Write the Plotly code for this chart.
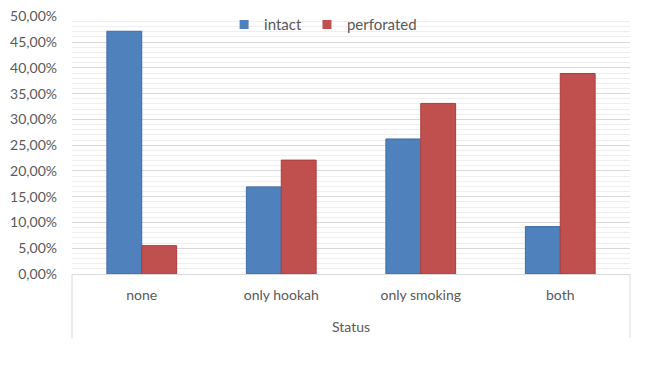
import plotly.graph_objects as go

categories = ["none", "only hookah", "only smoking", "both"]
intact = [0.471, 0.169, 0.262, 0.092]
perforated = [0.055, 0.221, 0.331, 0.389]
tick_vals = [0, 0.05, 0.10, 0.15, 0.20, 0.25, 0.30, 0.35, 0.40, 0.45, 0.50]

font_family = "Lato, Open Sans, sans-serif"
txt = "#595959"
blue, red = "#4f81bd", "#c0504d"

fig = go.Figure()
fig.add_trace(go.Bar(name="intact", x=categories, y=intact, showlegend=False,
                     marker=dict(color=blue, line=dict(color="#3d6da8", width=1))))
fig.add_trace(go.Bar(name="perforated", x=categories, y=perforated, showlegend=False,
                     marker=dict(color=red, line=dict(color="#b03c39", width=1))))
# legend entries with small square swatches
fig.add_trace(go.Scatter(name="intact", x=[None], y=[None], mode="markers",
                         marker=dict(symbol="square", size=9, color=blue)))
fig.add_trace(go.Scatter(name="perforated", x=[None], y=[None], mode="markers",
                         marker=dict(symbol="square", size=9, color=red)))

fig.update_layout(
    width=650, height=388,
    margin=dict(l=64, r=28, t=8, b=122, autoexpand=False),
    paper_bgcolor="white", plot_bgcolor="white",
    barmode="group", bargap=0.5, bargroupgap=0,
    separators=",.",
    font=dict(family=font_family, color=txt, size=14),
    legend=dict(orientation="h", x=0.45, xanchor="center", y=0.966, yanchor="middle",
                bgcolor="rgba(0,0,0,0)", font=dict(size=15, color=txt),
                itemwidth=30, traceorder="normal", tracegroupgap=0),
    showlegend=True,
)
fig.update_yaxes(range=[0, 0.5006], tickvals=tick_vals, tickformat=".2%",
                 showgrid=True, gridcolor="#d9d9d9", gridwidth=1,
                 minor=dict(dtick=0.01, showgrid=True, gridcolor="#eeeeee", gridwidth=1),
                 zeroline=False, showline=False, ticks="", ticklabelstandoff=14,
                 ticklabeloverflow="allow",
                 automargin=False, tickfont=dict(size=14, color=txt))
fig.update_xaxes(showline=True, linecolor="#d9d9d9", linewidth=1, ticks="",
                 ticklabelstandoff=8,
                 automargin=False, tickfont=dict(size=14, color=txt),
                 title=dict(text="Status", font=dict(size=14, color=txt), standoff=20))

# category box borders (Excel-style)
for xv in [0, 1]:
    fig.add_shape(type="line", xref="x domain", yref="paper", x0=xv, x1=xv,
                  y0=0, y1=-0.248, line=dict(color="#d9d9d9", width=1))

fig.write_html("out.html")
